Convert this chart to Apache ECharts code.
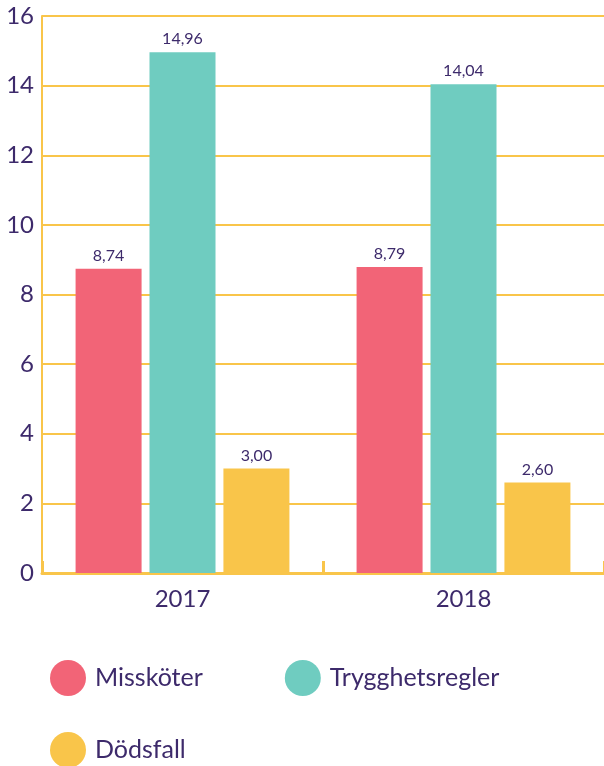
<!DOCTYPE html>
<html>
<head>
<meta charset="utf-8">
<script src="https://cdn.jsdelivr.net/npm/echarts@6/dist/echarts.min.js"></script>
<style>html,body{margin:0;padding:0;background:#fff}</style>
</head>
<body>
<div id="main" style="width:604px;height:766px"></div>
<script>
var years = ['2017', '2018'];
var misskoter = [8.74, 8.79];
var trygghet = [14.96, 14.04];
var dodsfall = [3.00, 2.60];

var txt = '#3d2a6b';
var yel = '#f9c54a';
var lbl = {show: true, position: 'top', color: txt, fontSize: 16, fontFamily: 'Lato',
    formatter: function (p) { return p.value.toFixed(2).replace('.', ','); }};
var legStyle = {color: txt, fontSize: 25, padding: [0, 0, 0, 4]};

var chart = echarts.init(document.getElementById('main'));
chart.setOption({
    textStyle: {fontFamily: 'Lato'},
    grid: {left: 42, right: -3, top: 16, height: 557},
    legend: [{
        left: 45, top: 655, itemWidth: 36, itemHeight: 36, itemGap: 82,
        icon: 'circle', textStyle: legStyle,
        data: ['Missköter', 'Trygghetsregler']
    }, {
        left: 45, top: 727, itemWidth: 36, itemHeight: 36,
        icon: 'circle', textStyle: legStyle,
        data: ['Dödsfall']
    }],
    xAxis: {
        type: 'category', data: years,
        axisLine: {lineStyle: {color: yel, width: 3}},
        axisTick: {show: true, length: 12, inside: true, lineStyle: {color: yel, width: 3}},
        axisLabel: {color: txt, fontSize: 24, margin: 14}
    },
    yAxis: {
        type: 'value', min: 0, max: 16, interval: 2,
        axisLine: {show: true, lineStyle: {color: yel, width: 2}},
        splitLine: {lineStyle: {color: yel, width: 2}},
        axisLabel: {color: txt, fontSize: 24, margin: 8}
    },
    series: [
        {name: 'Missköter', type: 'bar', data: misskoter, barWidth: 66, barGap: '12%', itemStyle: {color: '#f26477'}, label: lbl},
        {name: 'Trygghetsregler', type: 'bar', data: trygghet, barWidth: 66, itemStyle: {color: '#6fccc0'}, label: lbl},
        {name: 'Dödsfall', type: 'bar', data: dodsfall, barWidth: 66, itemStyle: {color: yel}, label: lbl}
    ]
});
</script>
</body>
</html>
